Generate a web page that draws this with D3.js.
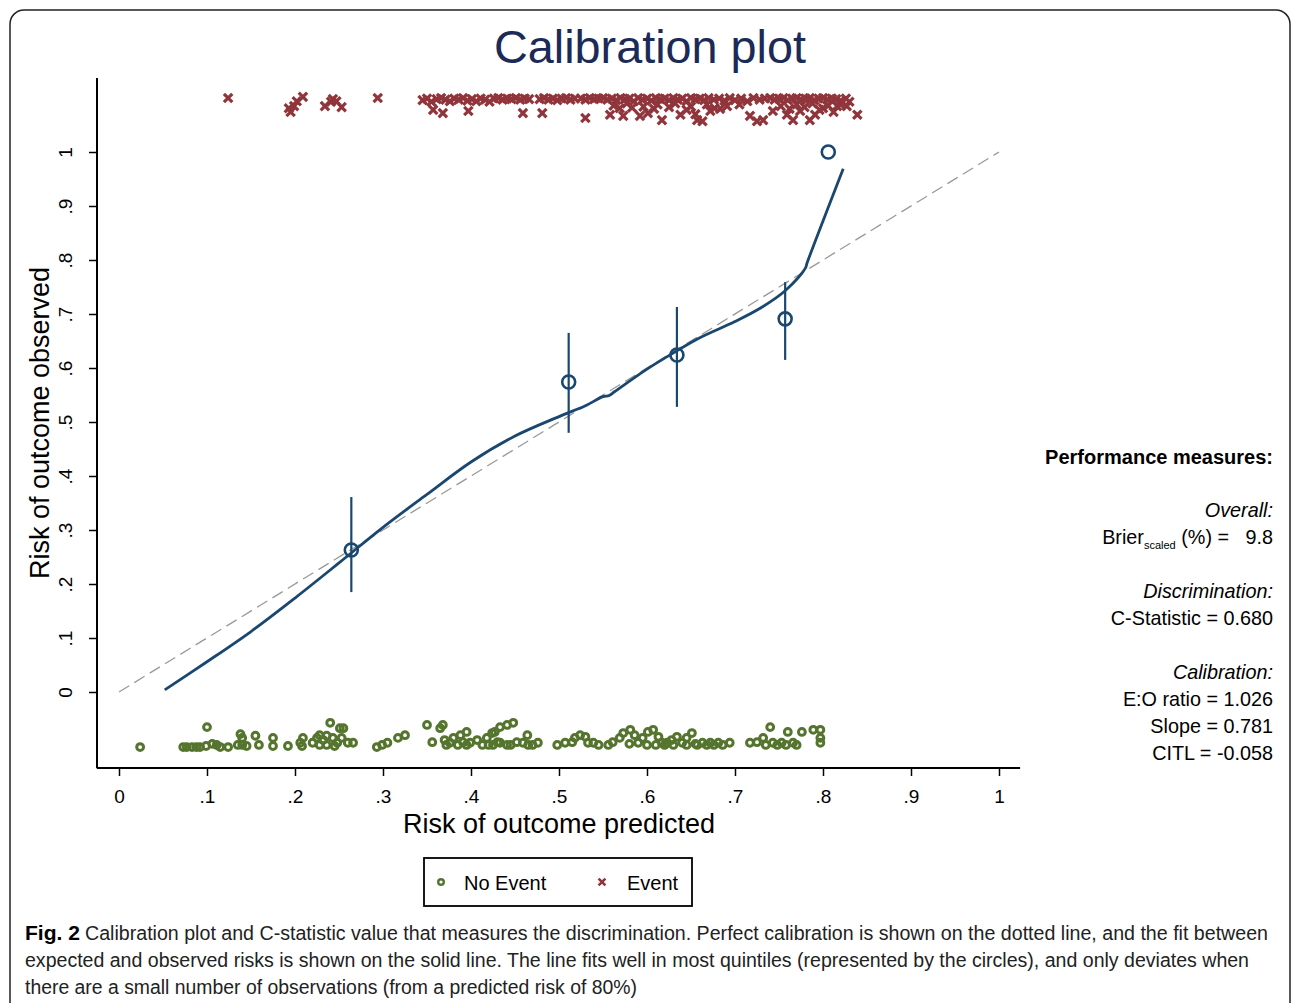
<!DOCTYPE html>
<html>
<head>
<meta charset="utf-8">
<script src="https://cdn.jsdelivr.net/npm/d3@7"></script>
<style>
  body { margin: 0; background: #fff; }
  text { font-family: "Liberation Sans", Arial, sans-serif; }
</style>
</head>
<body>
<script>
// quintile groups: mean predicted, observed, 95% CI
var quintX  = [0.264, 0.511, 0.634, 0.757, 0.806];
var quintY  = [0.263, 0.574, 0.624, 0.691, 1.000];
var quintLo = [0.185, 0.480, 0.528, 0.615, null];
var quintHi = [0.361, 0.665, 0.713, 0.759, null];

// smoothed (lowess) calibration curve
var curveX = [0.052, 0.10, 0.15, 0.20, 0.25, 0.30, 0.35, 0.40, 0.45, 0.50, 0.53, 0.55, 0.557, 0.563, 0.60, 0.63, 0.66, 0.70, 0.73, 0.757, 0.780, 0.782, 0.823];
var curveY = [0.004, 0.056, 0.112, 0.174, 0.239, 0.305, 0.366, 0.426, 0.474, 0.510, 0.530, 0.547, 0.549, 0.556, 0.598, 0.628, 0.656, 0.686, 0.712, 0.743, 0.785, 0.795, 0.969];

// events (x) plotted at top, predicted risk + jittered height
var eventX = [0.124, 0.193, 0.195, 0.199, 0.202, 0.209, 0.234, 0.241, 0.243, 0.247, 0.253, 0.294,
  0.345, 0.350, 0.355, 0.361, 0.366, 0.371, 0.376, 0.381, 0.386, 0.391, 0.396, 0.401, 0.406, 0.411, 0.416, 0.421, 0.426, 0.431, 0.436, 0.441, 0.446, 0.451, 0.456, 0.461, 0.466,
  0.478, 0.483, 0.488, 0.493, 0.498, 0.503, 0.508, 0.513, 0.518,
  0.525, 0.530, 0.535, 0.540, 0.545, 0.550, 0.555, 0.560, 0.565, 0.570, 0.575, 0.580, 0.585, 0.590, 0.595, 0.600, 0.605, 0.610, 0.615, 0.620, 0.625, 0.630, 0.635, 0.640, 0.645, 0.650, 0.655, 0.660, 0.665, 0.670, 0.676, 0.682, 0.688, 0.694, 0.700, 0.707, 0.714, 0.721, 0.728, 0.734, 0.740, 0.745, 0.750, 0.755, 0.760, 0.765, 0.770, 0.775, 0.780, 0.785, 0.790, 0.795, 0.800, 0.805, 0.810, 0.815, 0.820, 0.826, 0.830,
  0.357, 0.368, 0.397, 0.459, 0.481, 0.530, 0.558, 0.569, 0.573,
  0.592, 0.601, 0.617, 0.638, 0.645, 0.657, 0.663, 0.672, 0.677, 0.691, 0.717, 0.725, 0.732, 0.743, 0.759, 0.766, 0.774, 0.785, 0.791, 0.800, 0.816, 0.827, 0.839,
  0.562, 0.577, 0.583, 0.596, 0.608, 0.612, 0.625, 0.632, 0.650, 0.655, 0.668, 0.683, 0.705, 0.752, 0.762, 0.770, 0.779, 0.788, 0.796, 0.806, 0.812, 0.820];
var eventY = [1.100, 1.081, 1.074, 1.085, 1.094, 1.102, 1.085, 1.093, 1.098, 1.094, 1.083, 1.100,
  1.096, 1.099, 1.093, 1.098, 1.100, 1.097, 1.094, 1.099, 1.097, 1.100, 1.095, 1.098, 1.094, 1.099, 1.097, 1.093, 1.099, 1.100, 1.097, 1.099, 1.098, 1.100, 1.097, 1.099, 1.098,
  1.098, 1.100, 1.097, 1.099, 1.096, 1.099, 1.100, 1.097, 1.099,
  1.099, 1.097, 1.100, 1.098, 1.099, 1.100, 1.097, 1.099, 1.096, 1.100, 1.098, 1.099, 1.094, 1.100, 1.097, 1.099, 1.095, 1.100, 1.098, 1.099, 1.096, 1.100, 1.097, 1.099, 1.094, 1.100, 1.098, 1.099, 1.096, 1.100, 1.097, 1.099, 1.095, 1.100, 1.096, 1.099, 1.094, 1.100, 1.097, 1.099, 1.100, 1.097, 1.099, 1.100, 1.096, 1.099, 1.100, 1.097, 1.099, 1.100, 1.096, 1.099, 1.100, 1.097, 1.099, 1.098, 1.095, 1.099, 1.093,
  1.078, 1.072, 1.076, 1.072, 1.072, 1.063, 1.069, 1.081, 1.067,
  1.067, 1.072, 1.059, 1.069, 1.078, 1.059, 1.057, 1.076, 1.081, 1.085, 1.067, 1.057, 1.059, 1.076, 1.069, 1.059, 1.076, 1.059, 1.069, 1.081, 1.085, 1.085, 1.069,
  1.086, 1.090, 1.082, 1.084, 1.080, 1.088, 1.083, 1.090, 1.084, 1.070, 1.088, 1.080, 1.088, 1.085, 1.080, 1.088, 1.083, 1.090, 1.078, 1.086, 1.074, 1.088];

// non-events (o) plotted at bottom
var noEventX = [0.024, 0.073, 0.077, 0.083, 0.088, 0.092, 0.100, 0.099, 0.106, 0.111, 0.115, 0.124, 0.135, 0.140, 0.138, 0.145, 0.155, 0.159, 0.175, 0.175, 0.192,
  0.206, 0.209, 0.208, 0.220, 0.225, 0.228, 0.232, 0.236, 0.240, 0.243, 0.248, 0.251, 0.255, 0.253, 0.260, 0.266,
  0.293, 0.299, 0.305, 0.317, 0.325, 0.350, 0.356, 0.365, 0.368, 0.370, 0.376, 0.380, 0.388, 0.391, 0.395, 0.399, 0.407, 0.413, 0.418, 0.424, 0.430,
  0.427, 0.433, 0.441, 0.448, 0.433, 0.441, 0.452, 0.464, 0.459, 0.465, 0.476,
  0.498, 0.507, 0.515, 0.518, 0.524, 0.530, 0.533, 0.539, 0.556, 0.561, 0.569, 0.573, 0.581, 0.586, 0.590, 0.595, 0.601, 0.607, 0.613, 0.617, 0.623, 0.628, 0.634, 0.640, 0.645, 0.651, 0.657, 0.663, 0.672, 0.681, 0.686, 0.694,
  0.717, 0.725, 0.732, 0.740, 0.743, 0.753, 0.760, 0.766, 0.776, 0.789, 0.797, 0.797, 0.797,
  0.600, 0.610, 0.620, 0.630, 0.645, 0.655, 0.668, 0.676, 0.735, 0.748, 0.758, 0.770, 0.140, 0.228, 0.236, 0.245, 0.372, 0.385, 0.395, 0.420, 0.425, 0.445, 0.470, 0.545, 0.580];
var noEventY = [-0.102, -0.102, -0.102, -0.102, -0.102, -0.102, -0.065, -0.100, -0.096, -0.098, -0.102, -0.102, -0.098, -0.085, -0.078, -0.100, -0.081, -0.098, -0.085, -0.100, -0.100,
  -0.094, -0.085, -0.100, -0.094, -0.085, -0.080, -0.089, -0.081, -0.057, -0.085, -0.094, -0.067, -0.067, -0.085, -0.094, -0.094,
  -0.102, -0.098, -0.094, -0.085, -0.080, -0.061, -0.093, -0.067, -0.061, -0.089, -0.094, -0.085, -0.080, -0.093, -0.074, -0.094, -0.089, -0.098, -0.085, -0.076, -0.093,
  -0.074, -0.065, -0.061, -0.057, -0.094, -0.098, -0.093, -0.080, -0.094, -0.098, -0.094,
  -0.098, -0.094, -0.093, -0.085, -0.080, -0.083, -0.094, -0.094, -0.098, -0.093, -0.085, -0.076, -0.070, -0.080, -0.094, -0.085, -0.074, -0.070, -0.083, -0.094, -0.094, -0.089, -0.083, -0.094, -0.085, -0.076, -0.098, -0.094, -0.094, -0.094, -0.098, -0.094,
  -0.094, -0.093, -0.085, -0.065, -0.094, -0.094, -0.074, -0.094, -0.074, -0.070, -0.070, -0.085, -0.094,
  -0.098, -0.098, -0.098, -0.098, -0.098, -0.096, -0.098, -0.098, -0.098, -0.098, -0.098, -0.098, -0.098, -0.098, -0.098, -0.100, -0.098, -0.098, -0.098, -0.098, -0.098, -0.098, -0.098, -0.098, -0.096];

var ticks = [0, 0.1, 0.2, 0.3, 0.4, 0.5, 0.6, 0.7, 0.8, 0.9, 1];
var tickLabels = ["0", ".1", ".2", ".3", ".4", ".5", ".6", ".7", ".8", ".9", "1"];

var measures = [
  {t: "Overall:", it: true},
  {t: "Brier", sub: "scaled", rest: " (%) =   9.8"},
  {t: "Discrimination:", it: true, gap: true},
  {t: "C-Statistic = 0.680"},
  {t: "Calibration:", it: true, gap: true},
  {t: "E:O ratio = 1.026"},
  {t: "Slope = 0.781"},
  {t: "CITL = -0.058"}
];

var navy = "#1a476f", maroon = "#90353b", green = "#55752f";

var svg = d3.select("body").append("svg")
    .attr("width", 1292)
    .attr("height", 1003);

// outer frame
svg.append("rect")
    .attr("x", 10).attr("y", 10)
    .attr("width", 1280).attr("height", 1010)
    .attr("rx", 14)
    .attr("fill", "none")
    .attr("stroke", "#222")
    .attr("stroke-width", 1.5);

var x = d3.scaleLinear().domain([0, 1]).range([119, 999]);
var y = d3.scaleLinear().domain([0, 1]).range([692, 152]);

svg.append("text")
    .text("Calibration plot")
    .attr("x", 650).attr("y", 63)
    .attr("text-anchor", "middle")
    .attr("font-size", "46px")
    .attr("textLength", 312).attr("lengthAdjust", "spacingAndGlyphs")
    .attr("fill", "#1b2a57");

// axes
var xAxis = svg.append("g")
    .attr("transform", "translate(0,768)")
    .call(d3.axisBottom(x).tickValues(ticks).tickSize(8).tickPadding(14)
      .tickFormat(function(d, i) { return tickLabels[i]; }));
xAxis.select(".domain").remove();
xAxis.selectAll("line").attr("stroke", "#000").attr("stroke-width", 1.5);
xAxis.selectAll("text").attr("font-size", "19px").attr("fill", "#000")
    .style("font-family", "'Liberation Sans', Arial, sans-serif");

var yAxis = svg.append("g")
    .attr("transform", "translate(97,0)")
    .call(d3.axisLeft(y).tickValues(ticks).tickSize(8)
      .tickFormat(function(d, i) { return tickLabels[i]; }));
yAxis.select(".domain").remove();
yAxis.selectAll("line").attr("stroke", "#000").attr("stroke-width", 1.5);
yAxis.selectAll("text")
    .attr("x", 0).attr("y", -25).attr("dy", 0)
    .attr("transform", "rotate(-90)")
    .attr("text-anchor", "middle")
    .attr("font-size", "19px").attr("fill", "#000")
    .style("font-family", "'Liberation Sans', Arial, sans-serif");

svg.append("line")
    .attr("x1", x(-0.025)).attr("x2", x(1.024))
    .attr("y1", 768).attr("y2", 768)
    .attr("stroke", "#000").attr("stroke-width", 2);
svg.append("line")
    .attr("x1", 97).attr("x2", 97)
    .attr("y1", y(1.137)).attr("y2", y(-0.141))
    .attr("stroke", "#000").attr("stroke-width", 2);

svg.append("text")
    .text("Risk of outcome predicted")
    .attr("x", 559).attr("y", 833)
    .attr("text-anchor", "middle")
    .attr("font-size", "27px");
svg.append("text")
    .text("Risk of outcome observed")
    .attr("transform", "translate(49,423) rotate(-90)")
    .attr("text-anchor", "middle")
    .attr("font-size", "27px");

// perfect calibration
svg.append("line")
    .attr("x1", x(0)).attr("y1", y(0))
    .attr("x2", x(1)).attr("y2", y(1))
    .attr("stroke", "#999")
    .attr("stroke-width", 1.3)
    .attr("stroke-dasharray", "12,6");

// smooth fit
var line = d3.line()
    .x(function(d, i) { return x(curveX[i]); })
    .y(function(d, i) { return y(curveY[i]); })
    .curve(d3.curveCatmullRom.alpha(0.5));
svg.append("path")
    .datum(curveX)
    .attr("d", line)
    .attr("fill", "none")
    .attr("stroke", navy)
    .attr("stroke-width", 2.8)
    .attr("stroke-linejoin", "round");

// quintile CIs and points
svg.selectAll(".ci")
    .data(quintX.filter(function(d, i) { return quintLo[i] != null; }))
  .enter().append("line")
    .attr("class", "ci")
    .attr("x1", function(d) { return x(d); })
    .attr("x2", function(d) { return x(d); })
    .attr("y1", function(d, i) { return y(quintLo[i]); })
    .attr("y2", function(d, i) { return y(quintHi[i]); })
    .attr("stroke", navy)
    .attr("stroke-width", 2.2);

svg.selectAll(".quint")
    .data(quintX)
  .enter().append("circle")
    .attr("class", "quint")
    .attr("cx", function(d) { return x(d); })
    .attr("cy", function(d, i) { return y(quintY[i]); })
    .attr("r", 6.5)
    .attr("fill", "none")
    .attr("stroke", navy)
    .attr("stroke-width", 2.6);

// rug markers
svg.selectAll(".noev")
    .data(noEventX)
  .enter().append("circle")
    .attr("class", "noev")
    .attr("cx", function(d) { return x(d); })
    .attr("cy", function(d, i) { return y(noEventY[i]); })
    .attr("r", 3.4)
    .attr("fill", "none")
    .attr("stroke", green)
    .attr("stroke-width", 3);

function cross(g, s, w) {
  g.append("path")
    .attr("d", "M" + (-s) + "," + (-s) + "L" + s + "," + s + "M" + (-s) + "," + s + "L" + s + "," + (-s))
    .attr("stroke", maroon)
    .attr("stroke-width", w)
    .attr("fill", "none");
}
svg.selectAll(".ev")
    .data(eventX)
  .enter().append("g")
    .attr("class", "ev")
    .attr("transform", function(d, i) { return "translate(" + x(d) + "," + y(eventY[i]) + ")"; })
    .each(function() { cross(d3.select(this), 4.2, 3.2); });

// legend
svg.append("rect")
    .attr("x", 424).attr("y", 858)
    .attr("width", 268).attr("height", 48)
    .attr("fill", "none")
    .attr("stroke", "#000")
    .attr("stroke-width", 1.8);
svg.append("circle")
    .attr("cx", 441).attr("cy", 882).attr("r", 2.8)
    .attr("fill", "none").attr("stroke", green).attr("stroke-width", 2.4);
svg.append("text").text("No Event")
    .attr("x", 464).attr("y", 890).attr("font-size", "20px");
cross(svg.append("g").attr("transform", "translate(602,882)"), 3.4, 2.6);
svg.append("text").text("Event")
    .attr("x", 627).attr("y", 890).attr("font-size", "20px");

// performance measures
svg.append("text")
    .text("Performance measures:")
    .attr("x", 1273).attr("y", 464)
    .attr("text-anchor", "end")
    .attr("font-size", "20px")
    .attr("font-weight", "bold");

var yy = 517;
measures.forEach(function(m, i) {
  if (m.gap) yy += 27;
  var t = svg.append("text")
      .attr("x", 1273).attr("y", yy)
      .attr("text-anchor", "end")
      .attr("font-size", "19.8px")
      .style("white-space", "pre")
      .style("font-style", m.it ? "italic" : "normal");
  t.append("tspan").text(m.t);
  if (m.sub) {
    t.append("tspan").text(m.sub).attr("font-size", "11px").attr("dy", 5);
    t.append("tspan").text(m.rest).attr("dy", -5);
  }
  yy += 27;
});

// caption
var cap = svg.append("g").attr("font-size", "20px")
    .style("font-family", "'Liberation Sans Narrow', 'DejaVu Sans Condensed', 'Liberation Sans', sans-serif");
cap.append("text").text("Fig. 2")
    .attr("x", 25).attr("y", 940)
    .attr("font-weight", "bold")
    .attr("textLength", 55).attr("lengthAdjust", "spacingAndGlyphs");
cap.append("text")
    .text("Calibration plot and C-statistic value that measures the discrimination. Perfect calibration is shown on the dotted line, and the fit between")
    .attr("x", 85).attr("y", 940)
    .attr("fill", "#222")
    .attr("textLength", 1183).attr("lengthAdjust", "spacingAndGlyphs");
cap.append("text")
    .text("expected and observed risks is shown on the solid line. The line fits well in most quintiles (represented by the circles), and only deviates when")
    .attr("x", 25).attr("y", 967)
    .attr("fill", "#222")
    .attr("textLength", 1224).attr("lengthAdjust", "spacingAndGlyphs");
cap.append("text")
    .text("there are a small number of observations (from a predicted risk of 80%)")
    .attr("x", 25).attr("y", 994)
    .attr("fill", "#222")
    .attr("textLength", 612).attr("lengthAdjust", "spacingAndGlyphs");
</script>
</body>
</html>
